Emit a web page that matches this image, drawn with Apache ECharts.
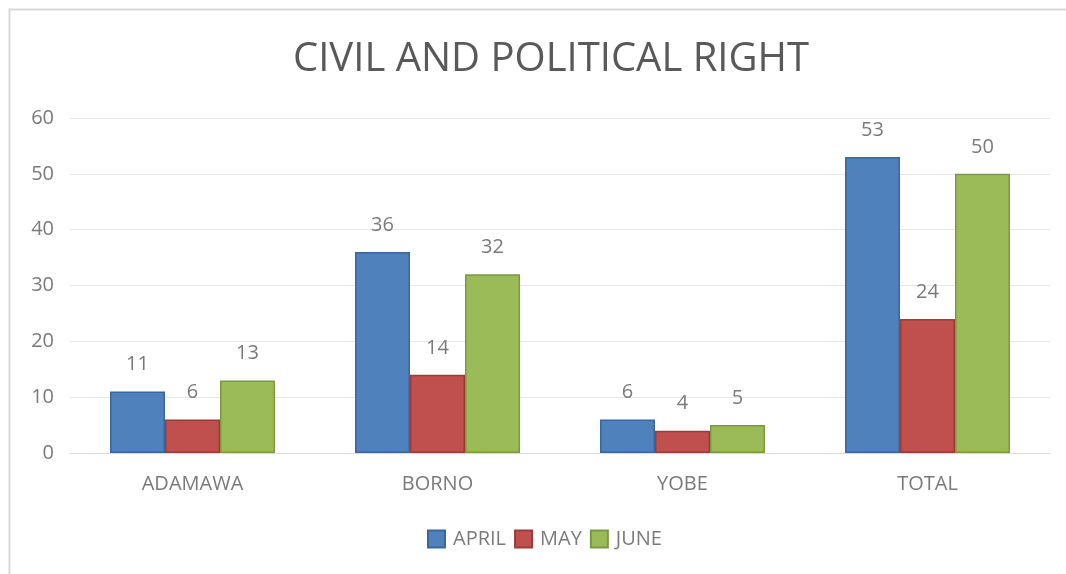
<!DOCTYPE html>
<html>
<head>
<meta charset="utf-8">
<script src="https://cdn.jsdelivr.net/npm/echarts@6/dist/echarts.min.js"></script>
<style>
  html, body { margin: 0; padding: 0; background: #fff; }
  #main { width: 1066px; height: 574px; }
</style>
</head>
<body>
<div id="main"></div>
<script>
const categories = ['ADAMAWA', 'BORNO', 'YOBE', 'TOTAL'];
const april = [11, 36, 6, 53];
const may = [6, 14, 4, 24];
const june = [13, 32, 5, 50];

// office-style palette: fill + darker edge
const fills = ['#4f81bd', '#c0504d', '#9bbb59'];
const edges = ['#3a679c', '#9c3b38', '#7a9a3e'];
const titleColor = '#595959';
const textColor = '#7a7a7a';
const font = 'Open Sans';

let chart = echarts.init(document.getElementById('main'));

function barSeries(name, data, i) {
  return {
    name: name,
    type: 'bar',
    data: data,
    barWidth: 55,
    barGap: '0%',
    itemStyle: { color: fills[i], borderColor: edges[i], borderWidth: 1.5 },
    label: {
      show: true,
      position: 'top',
      distance: 17,
      color: textColor,
      fontFamily: font,
      fontSize: 20
    }
  };
}

chart.setOption({
  backgroundColor: '#fff',
  animation: false,
  title: {
    text: 'CIVIL AND POLITICAL RIGHT',
    left: 288,
    top: 35,
    textStyle: { color: titleColor, fontFamily: font, fontSize: 40, fontWeight: 'normal' }
  },
  legend: {
    bottom: 20,
    left: 422,
    itemWidth: 17,
    itemHeight: 17,
    itemGap: 8,
    icon: 'rect',
    textStyle: { color: textColor, fontFamily: font, fontSize: 20, padding: [0, 0, 0, 3] }
  },
  grid: { left: 70, right: 16, top: 118, bottom: 121, containLabel: false },
  xAxis: {
    type: 'category',
    data: categories,
    axisLine: { lineStyle: { color: '#d9d9d9' } },
    axisTick: { show: false },
    axisLabel: { color: textColor, fontFamily: font, fontSize: 20, margin: 21 }
  },
  yAxis: {
    type: 'value',
    min: 0,
    max: 60,
    interval: 10,
    axisLine: { show: false },
    axisTick: { show: false },
    splitLine: { lineStyle: { color: '#e6e6e6' } },
    axisLabel: { color: textColor, fontFamily: font, fontSize: 20, margin: 16 }
  },
  graphic: [{
    type: 'rect',
    shape: { x: 9.5, y: 9.5, width: 1200, height: 700 },
    style: { fill: 'none', stroke: '#d9d9d9', lineWidth: 2 },
    silent: true
  }],
  series: [
    barSeries('APRIL', april, 0),
    barSeries('MAY', may, 1),
    barSeries('JUNE', june, 2)
  ]
});

window.addEventListener('resize', function () {
  chart.resize();
});
</script>
</body>
</html>
